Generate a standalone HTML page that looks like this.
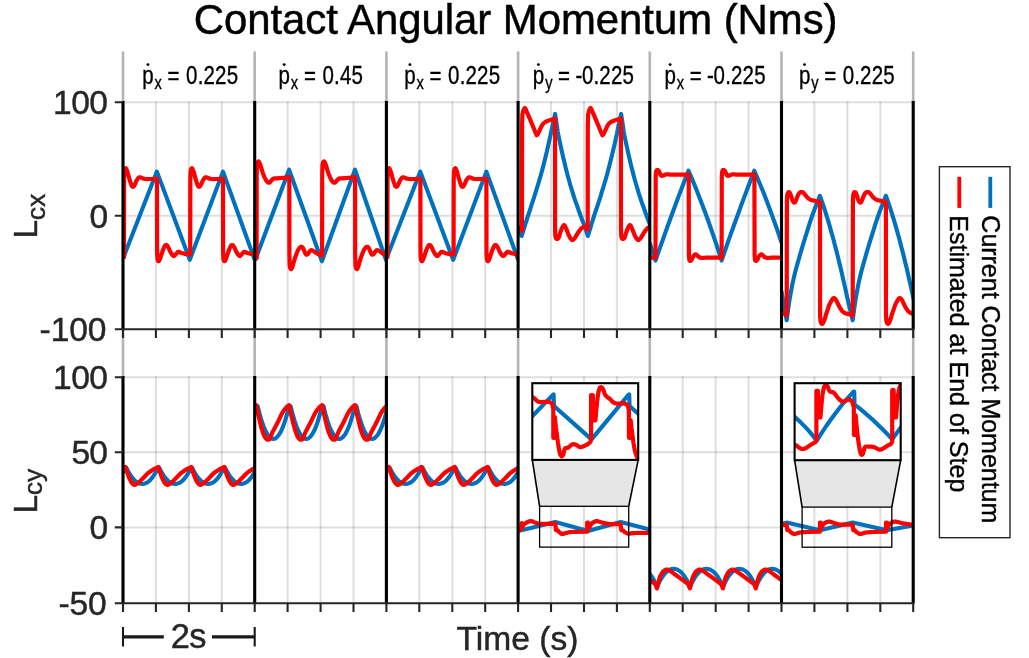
<!DOCTYPE html>
<html><head><meta charset="utf-8"><title>Contact Angular Momentum</title>
<style>html,body{margin:0;padding:0;background:#fff;}body{width:1029px;height:658px;overflow:hidden;font-family:"Liberation Sans",sans-serif;}svg{display:block;will-change:transform;}</style>
</head><body>
<svg width="1029" height="658" viewBox="0 0 1029 658" font-family="'Liberation Sans', sans-serif">
<rect width="1029" height="658" fill="#fff"/>
<defs>
<clipPath id="ct0"><rect x="123" y="100.2" width="131.7" height="229"/></clipPath>
<clipPath id="cb0"><rect x="123" y="375.2" width="131.7" height="228"/></clipPath>
<clipPath id="ct1"><rect x="254.7" y="100.2" width="131.7" height="229"/></clipPath>
<clipPath id="cb1"><rect x="254.7" y="375.2" width="131.7" height="228"/></clipPath>
<clipPath id="ct2"><rect x="386.4" y="100.2" width="131.7" height="229"/></clipPath>
<clipPath id="cb2"><rect x="386.4" y="375.2" width="131.7" height="228"/></clipPath>
<clipPath id="ct3"><rect x="518.1" y="100.2" width="131.7" height="229"/></clipPath>
<clipPath id="cb3"><rect x="518.1" y="375.2" width="131.7" height="228"/></clipPath>
<clipPath id="ct4"><rect x="649.8" y="100.2" width="131.7" height="229"/></clipPath>
<clipPath id="cb4"><rect x="649.8" y="375.2" width="131.7" height="228"/></clipPath>
<clipPath id="ct5"><rect x="781.5" y="100.2" width="131.7" height="229"/></clipPath>
<clipPath id="cb5"><rect x="781.5" y="375.2" width="131.7" height="228"/></clipPath>
</defs>
<path d="M155.9,101.2V329.2M155.9,376.2V603.2M188.9,101.2V329.2M188.9,376.2V603.2M221.8,101.2V329.2M221.8,376.2V603.2M287.6,101.2V329.2M287.6,376.2V603.2M320.6,101.2V329.2M320.6,376.2V603.2M353.5,101.2V329.2M353.5,376.2V603.2M419.3,101.2V329.2M419.3,376.2V603.2M452.3,101.2V329.2M452.3,376.2V603.2M485.2,101.2V329.2M485.2,376.2V603.2M551,101.2V329.2M551,376.2V603.2M584,101.2V329.2M584,376.2V603.2M616.9,101.2V329.2M616.9,376.2V603.2M682.7,101.2V329.2M682.7,376.2V603.2M715.7,101.2V329.2M715.7,376.2V603.2M748.6,101.2V329.2M748.6,376.2V603.2M814.4,101.2V329.2M814.4,376.2V603.2M847.4,101.2V329.2M847.4,376.2V603.2M880.3,101.2V329.2M880.3,376.2V603.2" stroke="#262626" stroke-opacity="0.15" stroke-width="2" fill="none"/>
<path d="M123,102.2H913.2M123,215.7H913.2M123,377.2H913.2M123,452.3H913.2M123,527.4H913.2" stroke="#262626" stroke-opacity="0.15" stroke-width="2" fill="none"/>
<path d="M123,51.5V102.2M123,329.2V377.2M254.7,51.5V102.2M254.7,329.2V377.2M386.4,51.5V102.2M386.4,329.2V377.2M518.1,51.5V102.2M518.1,329.2V377.2M649.8,51.5V102.2M649.8,329.2V377.2M781.5,51.5V102.2M781.5,329.2V377.2M913.2,51.5V102.2M913.2,329.2V377.2" stroke="#b4b4b4" stroke-width="2.6" fill="none"/>
<path d="M123,258.6 156.9,171.6 189.8,259.8 223,171.6 254.7,259.8" stroke="#0072BD" stroke-width="4.1" fill="none" stroke-linejoin="round" clip-path="url(#ct0)"/>
<path d="M124,258.5 124.1,180 124.4,171.5 124.8,169.4 124.9,169.2 125.1,168.8 125.3,168.4 125.6,168.2 125.8,168.2 126,168.4 126.3,168.8 126.5,169.3 126.8,170 127.2,171 127.6,172.4 128.1,174.1 128.6,176 129.1,177.9 129.6,179.5 130,180.9 130.4,182.2 130.8,183.3 131.2,184.4 131.5,185.2 131.8,185.8 132.1,186.3 132.4,186.6 132.7,186.8 133,186.8 133.3,186.7 133.6,186.4 133.9,186.1 134.3,185.6 134.6,185 135,184.3 135.4,183.3 135.8,182.4 136.2,181.4 136.6,180.6 137,179.9 137.4,179.3 137.8,178.7 138.1,178.3 138.5,177.9 138.8,177.6 139.1,177.4 139.4,177.3 139.7,177.3 140.1,177.3 140.5,177.4 141,177.6 141.5,177.8 142,178.1 142.5,178.3 143,178.5 143.6,178.6 144.2,178.8 144.8,178.9 145.5,179 146.4,179 147.4,179.1 148.5,179 149.4,179 150,179 157,178.9 157.1,252 157.4,258.6 157.8,260.4 157.9,260.6 158,260.8 158.2,261.1 158.4,261.2 158.6,261.2 158.8,261 159.1,260.7 159.3,260.3 159.6,259.6 160,258.8 160.4,257.6 160.9,256.2 161.4,254.6 161.9,253 162.4,251.6 162.9,250.4 163.3,249.2 163.8,248 164.2,247.1 164.6,246.3 165,245.7 165.3,245.3 165.7,245.1 166,245 166.4,245 166.7,245.2 167.1,245.5 167.4,245.9 167.8,246.5 168.2,247.2 168.7,248.1 169.2,249.2 169.7,250.4 170.3,251.6 170.8,252.6 171.4,253.5 171.9,254.4 172.5,255.1 173.1,255.7 173.6,256 174.1,255.9 174.6,255.6 175.1,255.1 175.5,254.5 176,254 176.5,253.5 176.9,253 177.4,252.5 177.8,252 178.3,251.8 178.8,251.8 179.3,252 179.8,252.2 180.4,252.5 181,252.8 181.7,253 182.4,253.2 183.1,253.4 183.8,253.6 184.5,253.8 185.2,254 186,254.1 186.7,254.2 187.4,254.3 187.8,254.4 190.2,254.5 190.3,180 190.6,171.5 191,169.4 191.1,169.2 191.3,168.8 191.5,168.4 191.8,168.2 192,168.2 192.2,168.4 192.5,168.8 192.7,169.3 193,170 193.4,171 193.8,172.4 194.3,174.1 194.8,176 195.3,177.9 195.8,179.5 196.2,180.9 196.6,182.2 197,183.3 197.4,184.4 197.7,185.2 198,185.8 198.3,186.3 198.6,186.6 198.9,186.8 199.2,186.8 199.5,186.7 199.8,186.4 200.1,186.1 200.5,185.6 200.8,185 201.2,184.3 201.6,183.3 202,182.4 202.4,181.4 202.8,180.6 203.2,179.9 203.6,179.3 204,178.7 204.3,178.3 204.7,177.9 205,177.6 205.3,177.4 205.6,177.3 205.9,177.3 206.3,177.3 206.7,177.4 207.2,177.6 207.7,177.8 208.2,178.1 208.7,178.3 209.2,178.5 209.8,178.6 210.4,178.8 211,178.9 211.7,179 212.6,179 213.6,179.1 214.7,179 215.6,179 216.2,179 223,178.9 223.1,252 223.4,258.6 223.8,260.4 223.9,260.6 224,260.8 224.2,261.1 224.4,261.2 224.6,261.2 224.8,261 225.1,260.7 225.3,260.3 225.6,259.6 226,258.8 226.4,257.6 226.9,256.2 227.4,254.6 227.9,253 228.4,251.6 228.9,250.4 229.3,249.2 229.8,248 230.2,247.1 230.6,246.3 231,245.7 231.3,245.3 231.7,245.1 232,245 232.4,245 232.7,245.2 233.1,245.5 233.4,245.9 233.8,246.5 234.2,247.2 234.7,248.1 235.2,249.2 235.7,250.4 236.3,251.6 236.8,252.6 237.4,253.5 237.9,254.4 238.5,255.1 239.1,255.7 239.6,256 240.1,255.9 240.6,255.6 241.1,255.1 241.5,254.5 242,254 242.5,253.5 242.9,253 243.4,252.5 243.8,252 244.3,251.8 244.8,251.8 245.3,252 245.8,252.2 246.4,252.5 247,252.8 247.7,253 248.4,253.2 249.1,253.4 249.8,253.6 250.5,253.8 251.2,254 252,254.1 252.7,254.2 253.4,254.3 253.8,254.4 254.7,254.5" stroke="#FF0000" stroke-width="4.2" fill="none" stroke-linejoin="round" clip-path="url(#ct0)"/>
<path d="M255,260.6 289.1,169.7 321.9,261.2 355,169.7 386.4,261.2" stroke="#0072BD" stroke-width="4.1" fill="none" stroke-linejoin="round" clip-path="url(#ct1)"/>
<path d="M256.6,259.5 256.7,175 257,165 257.5,162.6 257.6,162.4 257.8,162 258,161.7 258.3,161.4 258.5,161.4 258.7,161.6 259,161.8 259.3,162.3 259.6,163 260,164 260.5,165.5 261.1,167.3 261.7,169.4 262.3,171.4 262.9,173.2 263.5,174.8 264.1,176.2 264.7,177.6 265.3,178.8 265.8,179.8 266.3,180.6 266.7,181.2 267.1,181.6 267.5,182 267.8,182.3 268.1,182.5 268.3,182.7 268.5,182.7 268.8,182.7 269,182.7 269.3,182.6 269.5,182.5 269.8,182.3 270.1,182.1 270.4,181.8 270.7,181.5 271,181 271.3,180.6 271.7,180.2 272,179.8 272.3,179.5 272.7,179.2 273,178.9 273.4,178.7 273.8,178.5 274.3,178.4 274.7,178.3 275.3,178.3 275.9,178.3 276.6,178.3 277.5,178.3 278.4,178.2 279.5,178.1 280.6,178.1 281.6,178 282.7,177.9 283.8,177.8 285,177.6 285.9,177.5 286.6,177.4 289.3,177.2 289.4,255 289.7,265.5 290.2,268 290.3,268.2 290.5,268.6 290.7,268.9 290.9,269.2 291.1,269.2 291.3,269 291.6,268.6 291.9,268 292.2,267.3 292.5,266.5 292.8,265.6 293.1,264.5 293.4,263.2 293.8,261.9 294.2,260.5 294.7,258.9 295.3,257.1 296,255.2 296.6,253.5 297.2,252 297.7,250.9 298.2,249.9 298.6,249.2 299.1,248.5 299.5,248 299.9,247.5 300.3,247.2 300.7,246.9 301.1,246.8 301.5,246.8 301.9,246.9 302.2,247.2 302.6,247.6 303,248.1 303.3,248.6 303.6,249.3 304,250.1 304.3,251 304.6,251.8 304.9,252.5 305.2,253.1 305.5,253.7 305.8,254.1 306.1,254.5 306.4,254.7 306.7,254.7 307.1,254.6 307.4,254.3 307.8,254 308.1,253.6 308.5,253.1 308.8,252.6 309.2,252 309.6,251.4 309.9,251 310.2,250.7 310.5,250.5 310.8,250.3 311.1,250.2 311.5,250.2 311.9,250.3 312.3,250.4 312.8,250.7 313.3,251 313.8,251.3 314.4,251.7 315.1,252.2 315.9,252.7 316.6,253.2 317.3,253.6 318,254 318.7,254.3 319.3,254.6 319.9,254.9 320.3,255.1 322.1,255.3 322.2,175 322.5,165 323,162.6 323.1,162.4 323.3,162 323.5,161.7 323.8,161.4 324,161.4 324.2,161.6 324.5,161.8 324.8,162.3 325.1,163 325.5,164 326,165.5 326.6,167.3 327.2,169.4 327.8,171.4 328.4,173.2 329,174.8 329.6,176.2 330.2,177.6 330.8,178.8 331.3,179.8 331.8,180.6 332.2,181.2 332.6,181.6 333,182 333.3,182.3 333.6,182.5 333.8,182.7 334,182.7 334.3,182.7 334.5,182.7 334.8,182.6 335,182.5 335.3,182.3 335.6,182.1 335.9,181.8 336.2,181.5 336.5,181 336.8,180.6 337.2,180.2 337.5,179.8 337.8,179.5 338.2,179.2 338.5,178.9 338.9,178.7 339.3,178.5 339.8,178.4 340.2,178.3 340.8,178.3 341.4,178.3 342.1,178.3 343,178.3 343.9,178.2 345,178.1 346.1,178.1 347.1,178 348.2,177.9 349.3,177.8 350.5,177.6 351.4,177.5 352.1,177.4 355.1,177.2 355.2,255 355.5,265.5 356,268 356.1,268.2 356.3,268.6 356.5,268.9 356.7,269.2 356.9,269.2 357.1,269 357.4,268.6 357.7,268 358,267.3 358.3,266.5 358.6,265.6 358.9,264.5 359.2,263.2 359.6,261.9 360,260.5 360.5,258.9 361.1,257.1 361.8,255.2 362.4,253.5 363,252 363.5,250.9 364,249.9 364.4,249.2 364.9,248.5 365.3,248 365.7,247.5 366.1,247.2 366.5,246.9 366.9,246.8 367.3,246.8 367.7,246.9 368,247.2 368.4,247.6 368.8,248.1 369.1,248.6 369.4,249.3 369.8,250.1 370.1,251 370.4,251.8 370.7,252.5 371,253.1 371.3,253.7 371.6,254.1 371.9,254.5 372.2,254.7 372.5,254.7 372.9,254.6 373.2,254.3 373.6,254 373.9,253.6 374.3,253.1 374.6,252.6 375,252 375.4,251.4 375.7,251 376,250.7 376.3,250.5 376.6,250.3 376.9,250.2 377.3,250.2 377.7,250.3 378.1,250.4 378.6,250.7 379.1,251 379.6,251.3 380.2,251.7 380.9,252.2 381.7,252.7 382.4,253.2 383.1,253.6 383.8,254 384.5,254.3 385.1,254.6 385.7,254.9 386.1,255.1 386.4,255.3" stroke="#FF0000" stroke-width="4.2" fill="none" stroke-linejoin="round" clip-path="url(#ct1)"/>
<path d="M386.4,258.6 420.3,171.6 453.2,259.8 486.4,171.6 518.1,259.8" stroke="#0072BD" stroke-width="4.1" fill="none" stroke-linejoin="round" clip-path="url(#ct2)"/>
<path d="M387.4,258.5 387.5,180 387.8,171.5 388.2,169.4 388.3,169.2 388.5,168.8 388.7,168.4 389,168.2 389.2,168.2 389.4,168.4 389.7,168.8 389.9,169.3 390.2,170 390.6,171 391,172.4 391.5,174.1 392,176 392.5,177.9 393,179.5 393.4,180.9 393.8,182.2 394.2,183.3 394.6,184.4 394.9,185.2 395.2,185.8 395.5,186.3 395.8,186.6 396.1,186.8 396.4,186.8 396.7,186.7 397,186.4 397.3,186.1 397.7,185.6 398,185 398.4,184.3 398.8,183.3 399.2,182.4 399.6,181.4 400,180.6 400.4,179.9 400.8,179.3 401.2,178.7 401.5,178.3 401.9,177.9 402.2,177.6 402.5,177.4 402.8,177.3 403.1,177.3 403.5,177.3 403.9,177.4 404.4,177.6 404.9,177.8 405.4,178.1 405.9,178.3 406.4,178.5 407,178.6 407.6,178.8 408.2,178.9 408.9,179 409.8,179 410.8,179.1 411.9,179 412.8,179 413.4,179 420.4,178.9 420.5,252 420.8,258.6 421.2,260.4 421.3,260.6 421.4,260.8 421.6,261.1 421.8,261.2 422,261.2 422.2,261 422.5,260.7 422.7,260.3 423,259.6 423.4,258.8 423.8,257.6 424.3,256.2 424.8,254.6 425.3,253 425.8,251.6 426.3,250.4 426.7,249.2 427.2,248 427.6,247.1 428,246.3 428.4,245.7 428.7,245.3 429.1,245.1 429.4,245 429.8,245 430.1,245.2 430.5,245.5 430.8,245.9 431.2,246.5 431.6,247.2 432.1,248.1 432.6,249.2 433.1,250.4 433.7,251.6 434.2,252.6 434.8,253.5 435.3,254.4 435.9,255.1 436.5,255.7 437,256 437.5,255.9 438,255.6 438.5,255.1 438.9,254.5 439.4,254 439.9,253.5 440.3,253 440.8,252.5 441.2,252 441.7,251.8 442.2,251.8 442.7,252 443.2,252.2 443.8,252.5 444.4,252.8 445.1,253 445.8,253.2 446.5,253.4 447.2,253.6 447.9,253.8 448.6,254 449.4,254.1 450.1,254.2 450.8,254.3 451.2,254.4 453.6,254.5 453.7,180 454,171.5 454.4,169.4 454.5,169.2 454.7,168.8 454.9,168.4 455.2,168.2 455.4,168.2 455.6,168.4 455.9,168.8 456.1,169.3 456.4,170 456.8,171 457.2,172.4 457.7,174.1 458.2,176 458.7,177.9 459.2,179.5 459.6,180.9 460,182.2 460.4,183.3 460.8,184.4 461.1,185.2 461.4,185.8 461.7,186.3 462,186.6 462.3,186.8 462.6,186.8 462.9,186.7 463.2,186.4 463.5,186.1 463.9,185.6 464.2,185 464.6,184.3 465,183.3 465.4,182.4 465.8,181.4 466.2,180.6 466.6,179.9 467,179.3 467.4,178.7 467.7,178.3 468.1,177.9 468.4,177.6 468.7,177.4 469,177.3 469.3,177.3 469.7,177.3 470.1,177.4 470.6,177.6 471.1,177.8 471.6,178.1 472.1,178.3 472.6,178.5 473.2,178.6 473.8,178.8 474.4,178.9 475.1,179 476,179 477,179.1 478.1,179 479,179 479.6,179 486.4,178.9 486.5,252 486.8,258.6 487.2,260.4 487.3,260.6 487.4,260.8 487.6,261.1 487.8,261.2 488,261.2 488.2,261 488.5,260.7 488.7,260.3 489,259.6 489.4,258.8 489.8,257.6 490.3,256.2 490.8,254.6 491.3,253 491.8,251.6 492.3,250.4 492.7,249.2 493.2,248 493.6,247.1 494,246.3 494.4,245.7 494.7,245.3 495.1,245.1 495.4,245 495.8,245 496.1,245.2 496.5,245.5 496.8,245.9 497.2,246.5 497.6,247.2 498.1,248.1 498.6,249.2 499.1,250.4 499.7,251.6 500.2,252.6 500.8,253.5 501.3,254.4 501.9,255.1 502.5,255.7 503,256 503.5,255.9 504,255.6 504.5,255.1 504.9,254.5 505.4,254 505.9,253.5 506.3,253 506.8,252.5 507.2,252 507.7,251.8 508.2,251.8 508.7,252 509.2,252.2 509.8,252.5 510.4,252.8 511.1,253 511.8,253.2 512.5,253.4 513.2,253.6 513.9,253.8 514.6,254 515.4,254.1 516.1,254.2 516.8,254.3 517.2,254.4 518.1,254.5" stroke="#FF0000" stroke-width="4.2" fill="none" stroke-linejoin="round" clip-path="url(#ct2)"/>
<path d="M518.1,226 521.7,236 523.1,231.4 524.5,226.8 525.9,222.3 527.3,218 528.7,213.7 530.1,209.5 531.4,205.3 532.8,201.1 534.2,196.8 535.6,192.4 537,187.9 538.4,183.4 539.8,178.7 541.2,173.8 542.6,168.6 544,163.2 545.4,157.5 546.8,151.8 548.1,145.9 549.5,139.8 550.9,133.4 552.3,126.7 553.7,120.3 555.1,113.9 555.1,113.9 556.5,122.9 557.8,132.1 559.2,139.3 560.6,145.6 561.9,151.7 563.3,157.7 564.7,163.5 566,169.1 567.4,174.4 568.8,179.5 570.1,184.3 571.5,188.9 572.9,193.3 574.2,197.6 575.6,201.6 577,205.5 578.3,209.3 579.7,213.2 581.1,216.9 582.4,220.5 583.8,224.1 585.2,227.8 586.5,231.8 587.9,236 587.9,236 589.3,231.4 590.7,226.8 592,222.3 593.4,218 594.8,213.7 596.2,209.5 597.6,205.3 599,201.1 600.4,196.8 601.7,192.4 603.1,187.9 604.5,183.4 605.9,178.7 607.3,173.8 608.6,168.6 610,163.2 611.4,157.5 612.8,151.8 614.2,145.9 615.6,139.8 617,133.4 618.3,126.7 619.7,120.3 621.1,113.9 621.1,113.9 622.5,122.9 623.8,132.1 625.2,139.3 626.6,145.6 627.9,151.7 629.3,157.7 630.6,163.5 632,169.1 633.4,174.4 634.7,179.5 636.1,184.3 637.5,188.9 638.8,193.3 640.2,197.6 641.5,201.6 642.9,205.5 644.3,209.3 645.6,213.2 647,216.9 648.4,220.5 649.7,224.1 651.1,227.8 652.4,231.8 653.8,236" stroke="#0072BD" stroke-width="4.1" fill="none" stroke-linejoin="round" clip-path="url(#ct3)"/>
<path d="M518.6,230.5 522,230.5 522.1,125 522.4,114.5 523.2,111 523.4,110.5 523.7,109.7 524.1,108.9 524.5,108.3 524.8,108 525.1,108.2 525.5,108.8 525.9,109.6 526.2,110.3 526.4,110.8 530.5,120.3 535.8,133.2 536.8,135.2 536.9,135.1 537.1,134.9 537.3,134.7 537.6,134.4 537.9,134 538.2,133.4 538.6,132.7 538.9,131.8 539.4,130.9 539.8,130 540.3,129 540.8,127.8 541.3,126.7 541.9,125.5 542.5,124.6 543.1,123.8 543.8,123.2 544.5,122.6 545.2,122.1 546,121.6 546.9,121.2 547.9,120.8 549,120.4 550,120.1 551,119.8 551.9,119.5 552.9,119.2 553.7,119 554.5,118.8 555,118.6 555,118.5 555.1,230 555.3,235.5 555.8,238 556,238.2 556.2,238.5 556.6,238.7 556.9,239 557.2,239 557.5,238.9 557.8,238.8 558.1,238.5 558.4,238.1 558.8,237.4 559.2,236.3 559.6,234.9 560,233.4 560.5,231.9 561,230.5 561.5,229.2 562.1,227.9 562.7,226.6 563.3,225.7 563.8,225.2 564.3,225.2 564.7,225.6 565.1,226.3 565.5,227.2 566,228.3 566.6,229.7 567.3,231.4 568,233.2 568.6,234.9 569.3,236.3 569.9,237.4 570.5,238.4 571.1,239.1 571.6,239.7 572.2,240 572.7,240 573.2,239.8 573.7,239.3 574.2,238.7 574.8,238 575.4,237.2 576,236.1 576.7,235 577.3,233.9 578,232.8 578.7,231.8 579.4,230.8 580.1,229.8 580.9,228.9 581.6,228.2 582.3,227.6 583.1,227.2 583.9,226.9 584.6,226.7 585.2,226.6 585.7,226.6 586.1,226.9 586.5,227.1 586.8,227.4 587,227.6 587.7,229.6 587.8,125 588.1,114.5 588.9,111 589.1,110.5 589.4,109.7 589.8,108.9 590.2,108.3 590.5,108 590.8,108.2 591.2,108.8 591.6,109.6 591.9,110.3 592.1,110.8 596.2,120.3 601.5,133.2 602.5,135.2 602.6,135.1 602.8,134.9 603,134.7 603.3,134.4 603.6,134 603.9,133.4 604.3,132.7 604.6,131.8 605.1,130.9 605.5,130 606,129 606.5,127.8 607,126.7 607.6,125.5 608.2,124.6 608.8,123.8 609.5,123.2 610.2,122.6 610.9,122.1 611.7,121.6 612.6,121.2 613.6,120.8 614.7,120.4 615.7,120.1 616.7,119.8 617.6,119.5 618.6,119.2 619.4,119 620.2,118.8 620.7,118.6 620.9,118.5 621,230 621.2,235.5 621.7,238 621.9,238.2 622.1,238.5 622.5,238.7 622.8,239 623.1,239 623.4,238.9 623.7,238.8 624,238.5 624.3,238.1 624.7,237.4 625.1,236.3 625.5,234.9 625.9,233.4 626.4,231.9 626.9,230.5 627.4,229.2 628,227.9 628.6,226.6 629.2,225.7 629.7,225.2 630.2,225.2 630.6,225.6 631,226.3 631.4,227.2 631.9,228.3 632.5,229.7 633.2,231.4 633.9,233.2 634.5,234.9 635.2,236.3 635.8,237.4 636.4,238.4 637,239.1 637.5,239.7 638.1,240 638.6,240 639.1,239.8 639.6,239.3 640.1,238.7 640.7,238 641.3,237.2 641.9,236.1 642.6,235 643.2,233.9 643.9,232.8 644.6,231.8 645.3,230.8 646,229.8 646.8,228.9 647.5,228.2 648.2,227.6 649,227.2 649.8,226.9 650.5,226.7 651.1,226.6 651.6,226.6 652,226.9 652.4,227.1 652.7,227.4 652.9,227.6 649.8,229.6" stroke="#FF0000" stroke-width="4.2" fill="none" stroke-linejoin="round" clip-path="url(#ct3)"/>
<path d="M649.8,243 655.5,260.6 658.8,251.1 662.1,241.7 665.4,232.4 668.7,223.2 672,214.2 675.3,205.2 678.6,196.4 681.9,187.7 685.2,179.2 688.5,170.7 688.5,170.7 691.8,178.4 695.1,186.4 698.4,194.7 701.7,203.3 705.1,212.2 708.4,221.3 711.7,230.7 715,240.4 718.3,250.4 721.6,260.6 721.6,260.6 724.9,251.1 728.1,241.7 731.4,232.4 734.7,223.2 738,214.2 741.2,205.2 744.5,196.4 747.8,187.7 751,179.2 754.3,170.7 754.3,170.7 757,177 759.7,183.5 762.5,190.1 765.2,197 767.9,204.1 770.6,211.4 773.3,218.9 776.1,226.5 778.8,234.4 781.5,242.5" stroke="#0072BD" stroke-width="4.1" fill="none" stroke-linejoin="round" clip-path="url(#ct4)"/>
<path d="M650.3,257.7 655.5,257.7 655.7,176 655.8,175.4 655.8,174.6 655.9,173.6 656,172.6 656.1,171.7 656.3,171 656.5,170.6 656.7,170.3 657,170.1 657.2,170 657.5,170 657.7,170 657.9,170.1 658.2,170.2 658.4,170.5 658.6,170.8 658.9,171.1 659.1,171.5 659.3,172 659.6,172.6 659.8,173.2 660,173.8 660.3,174.4 660.5,174.8 660.7,175.1 661,175.4 661.2,175.5 661.5,175.7 661.7,175.8 662,175.8 662.3,175.8 662.6,175.7 662.9,175.6 663.3,175.5 663.6,175.3 664,175.2 664.4,175.1 664.7,174.9 665.1,174.7 665.5,174.5 666,174.4 666.5,174.3 667.1,174.3 667.9,174.4 668.7,174.4 669.4,174.5 670,174.6 670.5,174.7 688.7,174.7 688.9,255 688.9,255.6 689,256.5 689.1,257.4 689.2,258.5 689.3,259.4 689.4,260 689.5,260.4 689.7,260.7 689.9,260.8 690.1,260.8 690.3,260.8 690.5,260.8 690.7,260.7 690.9,260.6 691.1,260.4 691.3,260.2 691.5,259.9 691.7,259.5 692,259 692.2,258.4 692.6,257.8 692.9,257.1 693.2,256.5 693.5,256 693.8,255.6 694.2,255.2 694.5,254.9 694.8,254.6 695.2,254.4 695.5,254.3 695.8,254.3 696.1,254.5 696.4,254.7 696.7,255 697,255.2 697.3,255.5 697.6,255.8 697.9,256.1 698.2,256.4 698.5,256.7 698.8,257 699.2,257.2 699.6,257.4 699.9,257.5 700.3,257.7 700.7,257.8 701.2,257.8 701.7,257.9 702.3,257.9 703.1,257.9 703.9,257.8 704.6,257.8 705.2,257.7 705.7,257.7 721.6,257.7 721.8,176 721.9,175.4 721.9,174.6 722,173.6 722.1,172.6 722.2,171.7 722.4,171 722.6,170.6 722.8,170.3 723,170.1 723.3,170 723.6,170 723.8,170 724,170.1 724.3,170.2 724.5,170.5 724.7,170.8 725,171.1 725.2,171.5 725.4,172 725.7,172.6 725.9,173.2 726.1,173.8 726.4,174.4 726.6,174.8 726.8,175.1 727.1,175.4 727.3,175.5 727.6,175.7 727.8,175.8 728.1,175.8 728.4,175.8 728.7,175.7 729,175.6 729.4,175.5 729.7,175.3 730.1,175.2 730.5,175.1 730.8,174.9 731.2,174.7 731.6,174.5 732.1,174.4 732.6,174.3 733.2,174.3 734,174.4 734.8,174.4 735.5,174.5 736.1,174.6 736.6,174.7 754.4,174.7 754.6,255 754.6,255.6 754.7,256.5 754.8,257.4 754.9,258.5 755,259.4 755.1,260 755.2,260.4 755.4,260.7 755.6,260.8 755.8,260.8 756,260.8 756.2,260.8 756.4,260.7 756.6,260.6 756.8,260.4 757,260.2 757.2,259.9 757.4,259.5 757.7,259 757.9,258.4 758.3,257.8 758.6,257.1 758.9,256.5 759.2,256 759.5,255.6 759.9,255.2 760.2,254.9 760.5,254.6 760.9,254.4 761.2,254.3 761.5,254.3 761.8,254.5 762.1,254.7 762.4,255 762.7,255.2 763,255.5 763.3,255.8 763.6,256.1 763.9,256.4 764.2,256.7 764.5,257 764.9,257.2 765.3,257.4 765.6,257.5 766,257.7 766.4,257.8 766.9,257.8 767.4,257.9 768,257.9 768.8,257.9 769.6,257.8 770.3,257.8 770.9,257.7 771.4,257.7 781.5,257.7" stroke="#FF0000" stroke-width="4.2" fill="none" stroke-linejoin="round" clip-path="url(#ct4)"/>
<path d="M781.5,291 786.7,320.3 786.7,320.3 788.1,309.7 789.5,300.2 790.9,292.2 792.2,285.1 793.6,278.7 795,272.8 796.4,267.5 797.8,262.6 799.2,257.7 800.5,253 801.9,248.3 803.3,243.7 804.7,239.1 806.1,234.7 807.5,230.3 808.8,225.9 810.2,221.7 811.6,217.5 813,213.5 814.4,209.8 815.8,206.3 817.1,202.8 818.5,199.3 819.9,195.8 819.9,195.8 821.3,199.6 822.6,203.5 824,207.5 825.4,211.8 826.7,216.2 828.1,220.7 829.5,225.3 830.8,230.1 832.2,235 833.6,240 834.9,245.2 836.3,250.5 837.7,255.9 839,261.5 840.4,267.1 841.8,273 843.1,279 844.5,285.1 845.9,291.2 847.2,297.2 848.6,303.2 850,309.1 851.3,314.8 852.7,320.3 852.7,320.3 854.1,309.7 855.5,300.2 856.9,292.2 858.2,285.1 859.6,278.7 861,272.8 862.4,267.5 863.8,262.6 865.2,257.7 866.5,253 867.9,248.3 869.3,243.7 870.7,239.1 872.1,234.7 873.5,230.3 874.8,225.9 876.2,221.7 877.6,217.5 879,213.5 880.4,209.8 881.8,206.3 883.1,202.8 884.5,199.3 885.9,195.8 885.9,195.8 887.3,199.6 888.6,203.5 890,207.5 891.4,211.8 892.7,216.2 894.1,220.7 895.5,225.3 896.8,230.1 898.2,235 899.6,240 900.9,245.2 902.3,250.5 903.7,255.9 905,261.5 906.4,267.1 907.8,273 909.1,279 910.5,285.1 911.9,291.2 913.2,297.2 914.6,303.2 916,309.1 917.3,314.8 918.7,320.3" stroke="#0072BD" stroke-width="4.1" fill="none" stroke-linejoin="round" clip-path="url(#ct5)"/>
<path d="M782,313 784.5,314 786.7,315.5 786.9,200 787,199.3 787,198.3 787.1,197.1 787.2,195.9 787.3,194.8 787.5,194 787.7,193.4 787.9,192.9 788.2,192.6 788.4,192.3 788.7,192.1 788.9,192.1 789.1,192.2 789.4,192.3 789.6,192.6 789.8,193 790,193.4 790.3,194 790.6,194.7 790.9,195.7 791.2,196.7 791.5,197.7 791.8,198.7 792.1,199.5 792.4,200.2 792.8,200.9 793.1,201.5 793.5,202 793.8,202.4 794.1,202.6 794.4,202.6 794.6,202.5 794.9,202.3 795.2,202 795.4,201.5 795.7,201 796,200.3 796.3,199.5 796.7,198.5 797,197.5 797.4,196.6 797.7,195.8 798,195.1 798.4,194.5 798.7,194 799,193.5 799.4,193.1 799.7,192.7 800,192.4 800.3,192.2 800.6,192.1 800.9,192 801.2,192 801.5,192 801.8,192 802.2,192.1 802.5,192.2 802.9,192.4 803.3,192.7 803.7,193 804.1,193.5 804.6,194.1 805.1,194.7 805.6,195.4 806.2,196.1 806.7,196.7 807.2,197.2 807.8,197.8 808.4,198.3 808.9,198.8 809.6,199.2 810.2,199.6 810.9,199.9 811.6,200.1 812.4,200.3 813.2,200.5 813.9,200.6 814.7,200.8 815.5,201 816.4,201.2 817.2,201.4 818,201.6 818.7,201.8 819.2,201.9 820,202 820.1,316 820.5,321 821.2,323.2 821.3,323.3 821.5,323.5 821.7,323.7 821.9,323.8 822.2,323.9 822.4,323.8 822.6,323.6 822.9,323.3 823.1,322.9 823.4,322.4 823.7,321.8 824,321 824.4,320 824.7,318.7 825.2,317.4 825.6,315.9 826,314.4 826.5,313 827,311.6 827.5,310.1 828,308.6 828.5,307.1 829,305.7 829.5,304.5 830,303.4 830.6,302.3 831.1,301.3 831.7,300.4 832.2,299.6 832.6,299 833,298.6 833.2,298.3 833.5,298.2 833.7,298.2 834,298.2 834.2,298.3 834.4,298.3 834.7,298.4 834.9,298.5 835.1,298.7 835.4,299.1 835.8,299.6 836.2,300.4 836.8,301.4 837.3,302.6 837.9,303.8 838.5,305 839,306 839.5,306.9 840,307.8 840.5,308.7 841,309.4 841.5,310.2 842,310.8 842.5,311.4 843,311.8 843.6,312.2 844.1,312.6 844.6,312.9 845.2,313.2 845.8,313.4 846.5,313.6 847.1,313.8 847.8,313.9 848.4,314 849,314.2 849.6,314.4 850.2,314.6 850.7,314.8 851.3,314.9 851.7,315.1 852,315.2 852.7,315.5 852.9,200 853,199.3 853,198.3 853.1,197.1 853.2,195.9 853.3,194.8 853.5,194 853.7,193.4 853.9,192.9 854.2,192.6 854.4,192.3 854.7,192.1 854.9,192.1 855.1,192.2 855.4,192.3 855.6,192.6 855.8,193 856,193.4 856.3,194 856.6,194.7 856.9,195.7 857.2,196.7 857.5,197.7 857.8,198.7 858.1,199.5 858.4,200.2 858.8,200.9 859.1,201.5 859.5,202 859.8,202.4 860.1,202.6 860.4,202.6 860.6,202.5 860.9,202.3 861.2,202 861.4,201.5 861.7,201 862,200.3 862.3,199.5 862.7,198.5 863,197.5 863.4,196.6 863.7,195.8 864,195.1 864.4,194.5 864.7,194 865,193.5 865.4,193.1 865.7,192.7 866,192.4 866.3,192.2 866.6,192.1 866.9,192 867.2,192 867.5,192 867.8,192 868.2,192.1 868.5,192.2 868.9,192.4 869.3,192.7 869.7,193 870.1,193.5 870.6,194.1 871.1,194.7 871.6,195.4 872.2,196.1 872.7,196.7 873.2,197.2 873.8,197.8 874.4,198.3 874.9,198.8 875.6,199.2 876.2,199.6 876.9,199.9 877.6,200.1 878.4,200.3 879.2,200.5 879.9,200.6 880.7,200.8 881.5,201 882.4,201.2 883.2,201.4 884,201.6 884.7,201.8 885.2,201.9 885.9,202 886,316 886.4,321 887.1,323.2 887.2,323.3 887.4,323.5 887.6,323.7 887.8,323.8 888.1,323.9 888.3,323.8 888.5,323.6 888.8,323.3 889,322.9 889.3,322.4 889.6,321.8 889.9,321 890.3,320 890.6,318.7 891.1,317.4 891.5,315.9 891.9,314.4 892.4,313 892.9,311.6 893.4,310.1 893.9,308.6 894.4,307.1 894.9,305.7 895.4,304.5 895.9,303.4 896.5,302.3 897,301.3 897.6,300.4 898.1,299.6 898.5,299 898.9,298.6 899.1,298.3 899.4,298.2 899.6,298.2 899.9,298.2 900.1,298.3 900.3,298.3 900.6,298.4 900.8,298.5 901,298.7 901.3,299.1 901.7,299.6 902.1,300.4 902.7,301.4 903.2,302.6 903.8,303.8 904.4,305 904.9,306 905.4,306.9 905.9,307.8 906.4,308.7 906.9,309.4 907.4,310.2 907.9,310.8 908.4,311.4 908.9,311.8 909.5,312.2 910,312.6 910.5,312.9 911.1,313.2 911.7,313.4 912.4,313.6 913,313.8 913.7,313.9 914.3,314 914.9,314.2 915.5,314.4 916.1,314.6 916.6,314.8 917.2,314.9 917.6,315.1 917.9,315.2 913.2,315.5" stroke="#FF0000" stroke-width="4.2" fill="none" stroke-linejoin="round" clip-path="url(#ct5)"/>
<path d="M92.5,467.4 93.5,467.9 95.5,471.8 97.5,475.1 99.5,477.9 101.5,480.1 103.5,481.9 105.4,483.1 107.4,483.8 109.4,484 111.4,483.7 113.4,482.9 115.4,481.7 117.4,479.9 119.4,477.6 121.4,474.7 123.4,471.4 125.4,467.4 125.4,467.4 126.4,467.9 128.4,471.8 130.4,475.1 132.4,477.9 134.4,480.1 136.4,481.9 138.4,483.1 140.4,483.8 142.4,484 144.4,483.7 146.4,482.9 148.3,481.7 150.3,479.9 152.3,477.6 154.3,474.7 156.3,471.4 158.3,467.4 158.3,467.4 159.3,467.9 161.3,471.8 163.3,475.1 165.3,477.9 167.3,480.1 169.3,481.9 171.3,483.1 173.3,483.8 175.3,484 177.3,483.7 179.3,482.9 181.3,481.7 183.3,479.9 185.3,477.6 187.3,474.7 189.3,471.4 191.2,467.4 191.2,467.4 192.2,467.9 194.2,471.8 196.2,475.1 198.2,477.9 200.2,480.1 202.2,481.9 204.2,483.1 206.2,483.8 208.2,484 210.2,483.7 212.2,482.9 214.2,481.7 216.2,479.9 218.2,477.6 220.2,474.7 222.2,471.4 224.2,467.4 224.2,467.4 225.2,467.9 227.2,471.8 229.2,475.1 231.2,477.9 233.2,480.1 235.2,481.9 237.1,483.1 239.1,483.8 241.1,484 243.1,483.7 245.1,482.9 247.1,481.7 249.1,479.9 251.1,477.6 253.1,474.7 255.1,471.4 257.1,467.4" stroke="#0072BD" stroke-width="4.1" fill="none" stroke-linejoin="round" clip-path="url(#cb0)"/>
<path d="M92.5,466.9 92.6,467.4 92.9,468.1 93.1,469 93.5,470 93.9,471.2 94.3,472.6 94.8,474 95.3,475.3 95.7,476.4 96.1,477.4 96.5,478.3 96.9,479.1 97.2,479.9 97.6,480.6 97.9,481.3 98.3,481.9 98.7,482.5 99.1,483.1 99.5,483.6 99.9,484 100.3,484.3 100.6,484.6 101,484.8 101.4,484.9 101.8,484.9 102.1,484.8 102.5,484.6 103,484.4 103.4,484.1 103.8,483.9 104.3,483.6 105,483 106,482.1 107.2,481 108.6,479.8 109.9,478.5 111.1,477.3 112.3,476 113.5,474.7 114.7,473.5 115.9,472.5 117.2,471.6 118.4,470.7 119.6,470 120.6,469.4 121.5,468.9 122.4,468.5 123.1,468.2 123.6,467.9 124,467.6 124.4,467.4 124.7,467.3 124.9,467.1 125.1,467 125.3,467 125.4,466.9 125.4,466.9 125.6,467.4 125.8,468.1 126.1,469 126.4,470 126.8,471.2 127.3,472.6 127.7,474 128.2,475.3 128.6,476.4 129,477.4 129.4,478.3 129.8,479.1 130.2,479.9 130.5,480.6 130.8,481.3 131.2,481.9 131.6,482.5 132,483.1 132.4,483.6 132.8,484 133.2,484.3 133.6,484.6 133.9,484.8 134.3,484.9 134.7,484.9 135.1,484.8 135.5,484.6 135.9,484.4 136.3,484.1 136.7,483.9 137.2,483.6 137.9,483 138.9,482.1 140.2,481 141.5,479.8 142.8,478.5 144,477.3 145.2,476 146.4,474.7 147.6,473.5 148.9,472.5 150.1,471.6 151.4,470.7 152.5,470 153.5,469.4 154.5,468.9 155.3,468.5 156,468.2 156.6,467.9 157,467.6 157.3,467.4 157.6,467.3 157.9,467.1 158.1,467 158.2,467 158.3,466.9 158.3,466.9 158.5,467.4 158.7,468.1 159,469 159.3,470 159.7,471.2 160.2,472.6 160.7,474 161.1,475.3 161.5,476.4 161.9,477.4 162.3,478.3 162.7,479.1 163.1,479.9 163.4,480.6 163.8,481.3 164.1,481.9 164.5,482.5 164.9,483.1 165.3,483.6 165.7,484 166.1,484.3 166.5,484.6 166.8,484.8 167.2,484.9 167.6,484.9 168,484.8 168.4,484.6 168.8,484.4 169.2,484.1 169.6,483.9 170.1,483.6 170.8,483 171.8,482.1 173.1,481 174.4,479.8 175.7,478.5 176.9,477.3 178.1,476 179.3,474.7 180.5,473.5 181.8,472.5 183.1,471.6 184.3,470.7 185.4,470 186.4,469.4 187.4,468.9 188.2,468.5 188.9,468.2 189.5,467.9 189.9,467.6 190.2,467.4 190.5,467.3 190.8,467.1 191,467 191.1,467 191.2,466.9 191.2,466.9 191.4,467.4 191.6,468.1 191.9,469 192.2,470 192.6,471.2 193.1,472.6 193.6,474 194.1,475.3 194.5,476.4 194.9,477.4 195.3,478.3 195.7,479.1 196,479.9 196.4,480.6 196.7,481.3 197.1,481.9 197.4,482.5 197.8,483.1 198.3,483.6 198.7,484 199,484.3 199.4,484.6 199.8,484.8 200.2,484.9 200.5,484.9 200.9,484.8 201.3,484.6 201.8,484.4 202.2,484.1 202.5,483.9 203,483.6 203.8,483 204.8,482.1 206,481 207.4,479.8 208.7,478.5 209.9,477.3 211,476 212.2,474.7 213.4,473.5 214.7,472.5 216,471.6 217.2,470.7 218.4,470 219.4,469.4 220.3,468.9 221.1,468.5 221.9,468.2 222.4,467.9 222.8,467.6 223.2,467.4 223.5,467.3 223.7,467.1 223.9,467 224.1,467 224.2,466.9 224.2,466.9 224.3,467.4 224.6,468.1 224.8,469 225.2,470 225.6,471.2 226,472.6 226.5,474 227,475.3 227.4,476.4 227.8,477.4 228.2,478.3 228.6,479.1 228.9,479.9 229.3,480.6 229.6,481.3 230,481.9 230.4,482.5 230.8,483.1 231.2,483.6 231.6,484 232,484.3 232.3,484.6 232.7,484.8 233.1,484.9 233.5,484.9 233.8,484.8 234.2,484.6 234.7,484.4 235.1,484.1 235.5,483.9 236,483.6 236.7,483 237.7,482.1 239,481 240.3,479.8 241.6,478.5 242.8,477.3 244,476 245.2,474.7 246.4,473.5 247.6,472.5 248.9,471.6 250.1,470.7 251.3,470 252.3,469.4 253.2,468.9 254.1,468.5 254.8,468.2 255.3,467.9 255.7,467.6 256.1,467.4 256.4,467.3 256.6,467.1 256.8,467 257,467 257.1,466.9" stroke="#FF0000" stroke-width="4.2" fill="none" stroke-linejoin="round" clip-path="url(#cb0)"/>
<path d="M223.3,405.8 224.8,406.3 226.7,414.1 228.7,420.8 230.7,426.5 232.6,431 234.6,434.5 236.6,437 238.5,438.4 240.5,438.9 242.5,438.4 244.4,436.8 246.4,434.3 248.3,430.7 250.3,426.1 252.3,420.5 254.2,413.7 256.2,405.8 256.2,405.8 257.7,406.3 259.7,414.1 261.6,420.8 263.6,426.5 265.6,431 267.5,434.5 269.5,437 271.4,438.4 273.4,438.9 275.4,438.4 277.3,436.8 279.3,434.3 281.3,430.7 283.2,426.1 285.2,420.5 287.2,413.7 289.1,405.8 289.1,405.8 290.6,406.3 292.6,414.1 294.6,420.8 296.5,426.5 298.5,431 300.4,434.5 302.4,437 304.4,438.4 306.3,438.9 308.3,438.4 310.3,436.8 312.2,434.3 314.2,430.7 316.2,426.1 318.1,420.5 320.1,413.7 322.1,405.8 322.1,405.8 323.6,406.3 325.5,414.1 327.5,420.8 329.4,426.5 331.4,431 333.4,434.5 335.3,437 337.3,438.4 339.3,438.9 341.2,438.4 343.2,436.8 345.2,434.3 347.1,430.7 349.1,426.1 351,420.5 353,413.7 355,405.8 355,405.8 356.5,406.3 358.4,414.1 360.4,420.8 362.4,426.5 364.3,431 366.3,434.5 368.3,437 370.2,438.4 372.2,438.9 374.2,438.4 376.1,436.8 378.1,434.3 380,430.7 382,426.1 384,420.5 385.9,413.7 387.9,405.8" stroke="#0072BD" stroke-width="4.1" fill="none" stroke-linejoin="round" clip-path="url(#cb1)"/>
<path d="M223.3,405.2 223.5,406.1 223.8,407.5 224.1,409 224.5,410.5 224.7,411.8 225,413.1 225.3,414.6 225.8,416.6 226.5,419.5 227.4,423.2 228.3,426.8 229.2,429.9 229.9,432.1 230.6,434 231.3,435.5 231.9,436.8 232.4,437.7 232.9,438.4 233.3,438.8 233.8,439.2 234.2,439.5 234.5,439.7 234.9,439.7 235.3,439.7 235.6,439.7 236,439.6 236.4,439.3 236.9,438.7 237.4,437.5 238,436 238.7,434.2 239.6,432.2 240.7,430.1 241.9,427.7 243.3,425.3 244.6,422.8 245.9,420.2 247.2,417.4 248.4,414.8 249.6,412.6 250.6,410.9 251.6,409.6 252.5,408.5 253.3,407.6 253.9,406.9 254.4,406.4 254.9,406.1 255.3,405.8 255.6,405.6 255.9,405.4 256.1,405.3 256.2,405.2 256.2,405.2 256.4,406.1 256.7,407.5 257.1,409 257.4,410.5 257.7,411.8 257.9,413.1 258.2,414.6 258.7,416.6 259.4,419.5 260.3,423.2 261.2,426.8 262.1,429.9 262.8,432.1 263.5,434 264.2,435.5 264.8,436.8 265.3,437.7 265.8,438.4 266.3,438.8 266.7,439.2 267.1,439.5 267.5,439.7 267.8,439.7 268.2,439.7 268.6,439.7 268.9,439.6 269.3,439.3 269.8,438.7 270.3,437.5 270.9,436 271.6,434.2 272.5,432.2 273.6,430.1 274.9,427.7 276.2,425.3 277.5,422.8 278.8,420.2 280.1,417.4 281.3,414.8 282.5,412.6 283.6,410.9 284.5,409.6 285.4,408.5 286.2,407.6 286.8,406.9 287.4,406.4 287.8,406.1 288.2,405.8 288.5,405.6 288.8,405.4 289,405.3 289.1,405.2 289.1,405.2 289.3,406.1 289.6,407.5 290,409 290.3,410.5 290.6,411.8 290.8,413.1 291.1,414.6 291.6,416.6 292.3,419.5 293.2,423.2 294.2,426.8 295,429.9 295.8,432.1 296.5,434 297.1,435.5 297.7,436.8 298.3,437.7 298.8,438.4 299.2,438.8 299.6,439.2 300,439.5 300.4,439.7 300.8,439.7 301.1,439.7 301.5,439.7 301.8,439.6 302.2,439.3 302.7,438.7 303.3,437.5 303.9,436 304.6,434.2 305.4,432.2 306.5,430.1 307.8,427.7 309.1,425.3 310.4,422.8 311.7,420.2 313,417.4 314.3,414.8 315.4,412.6 316.5,410.9 317.5,409.6 318.4,408.5 319.1,407.6 319.8,406.9 320.3,406.4 320.7,406.1 321.1,405.8 321.5,405.6 321.7,405.4 321.9,405.3 322.1,405.2 322.1,405.2 322.3,406.1 322.6,407.5 322.9,409 323.2,410.5 323.5,411.8 323.8,413.1 324.1,414.6 324.6,416.6 325.3,419.5 326.2,423.2 327.1,426.8 327.9,429.9 328.7,432.1 329.4,434 330,435.5 330.7,436.8 331.2,437.7 331.7,438.4 332.1,438.8 332.6,439.2 333,439.5 333.3,439.7 333.7,439.7 334.1,439.7 334.4,439.7 334.8,439.6 335.2,439.3 335.7,438.7 336.2,437.5 336.8,436 337.5,434.2 338.4,432.2 339.4,430.1 340.7,427.7 342,425.3 343.4,422.8 344.6,420.2 345.9,417.4 347.2,414.8 348.4,412.6 349.4,410.9 350.4,409.6 351.3,408.5 352.1,407.6 352.7,406.9 353.2,406.4 353.7,406.1 354.1,405.8 354.4,405.6 354.6,405.4 354.8,405.3 355,405.2 355,405.2 355.2,406.1 355.5,407.5 355.8,409 356.2,410.5 356.4,411.8 356.7,413.1 357,414.6 357.5,416.6 358.2,419.5 359.1,423.2 360,426.8 360.9,429.9 361.6,432.1 362.3,434 363,435.5 363.6,436.8 364.1,437.7 364.6,438.4 365,438.8 365.5,439.2 365.9,439.5 366.2,439.7 366.6,439.7 367,439.7 367.3,439.7 367.7,439.6 368.1,439.3 368.6,438.7 369.1,437.5 369.7,436 370.4,434.2 371.3,432.2 372.4,430.1 373.6,427.7 375,425.3 376.3,422.8 377.6,420.2 378.9,417.4 380.1,414.8 381.3,412.6 382.3,410.9 383.3,409.6 384.2,408.5 385,407.6 385.6,406.9 386.1,406.4 386.6,406.1 387,405.8 387.3,405.6 387.6,405.4 387.8,405.3 387.9,405.2" stroke="#FF0000" stroke-width="4.2" fill="none" stroke-linejoin="round" clip-path="url(#cb1)"/>
<path d="M355.9,467.4 356.9,467.9 358.9,471.8 360.9,475.1 362.9,477.9 364.9,480.1 366.9,481.9 368.8,483.1 370.8,483.8 372.8,484 374.8,483.7 376.8,482.9 378.8,481.7 380.8,479.9 382.8,477.6 384.8,474.7 386.8,471.4 388.8,467.4 388.8,467.4 389.8,467.9 391.8,471.8 393.8,475.1 395.8,477.9 397.8,480.1 399.8,481.9 401.8,483.1 403.8,483.8 405.8,484 407.8,483.7 409.8,482.9 411.7,481.7 413.7,479.9 415.7,477.6 417.7,474.7 419.7,471.4 421.7,467.4 421.7,467.4 422.7,467.9 424.7,471.8 426.7,475.1 428.7,477.9 430.7,480.1 432.7,481.9 434.7,483.1 436.7,483.8 438.7,484 440.7,483.7 442.7,482.9 444.7,481.7 446.7,479.9 448.7,477.6 450.7,474.7 452.7,471.4 454.7,467.4 454.7,467.4 455.7,467.9 457.6,471.8 459.6,475.1 461.6,477.9 463.6,480.1 465.6,481.9 467.6,483.1 469.6,483.8 471.6,484 473.6,483.7 475.6,482.9 477.6,481.7 479.6,479.9 481.6,477.6 483.6,474.7 485.6,471.4 487.6,467.4 487.6,467.4 488.6,467.9 490.6,471.8 492.6,475.1 494.6,477.9 496.6,480.1 498.6,481.9 500.5,483.1 502.5,483.8 504.5,484 506.5,483.7 508.5,482.9 510.5,481.7 512.5,479.9 514.5,477.6 516.5,474.7 518.5,471.4 520.5,467.4" stroke="#0072BD" stroke-width="4.1" fill="none" stroke-linejoin="round" clip-path="url(#cb2)"/>
<path d="M355.9,466.9 356,467.4 356.3,468.1 356.5,469 356.9,470 357.3,471.2 357.7,472.6 358.2,474 358.7,475.3 359.1,476.4 359.5,477.4 359.9,478.3 360.3,479.1 360.6,479.9 361,480.6 361.3,481.3 361.7,481.9 362.1,482.5 362.5,483.1 362.9,483.6 363.3,484 363.7,484.3 364,484.6 364.4,484.8 364.8,484.9 365.2,484.9 365.5,484.8 365.9,484.6 366.4,484.4 366.8,484.1 367.2,483.9 367.7,483.6 368.4,483 369.4,482.1 370.7,481 372,479.8 373.3,478.5 374.5,477.3 375.7,476 376.9,474.7 378.1,473.5 379.3,472.5 380.6,471.6 381.8,470.7 383,470 384,469.4 384.9,468.9 385.8,468.5 386.5,468.2 387,467.9 387.4,467.6 387.8,467.4 388.1,467.3 388.3,467.1 388.5,467 388.7,467 388.8,466.9 388.8,466.9 389,467.4 389.2,468.1 389.5,469 389.8,470 390.2,471.2 390.7,472.6 391.1,474 391.6,475.3 392,476.4 392.4,477.4 392.8,478.3 393.2,479.1 393.6,479.9 393.9,480.6 394.2,481.3 394.6,481.9 395,482.5 395.4,483.1 395.8,483.6 396.2,484 396.6,484.3 396.9,484.6 397.3,484.8 397.7,484.9 398.1,484.9 398.5,484.8 398.9,484.6 399.3,484.4 399.7,484.1 400.1,483.9 400.6,483.6 401.3,483 402.3,482.1 403.6,481 404.9,479.8 406.2,478.5 407.4,477.3 408.6,476 409.8,474.7 411,473.5 412.3,472.5 413.5,471.6 414.8,470.7 415.9,470 416.9,469.4 417.9,468.9 418.7,468.5 419.4,468.2 420,467.9 420.4,467.6 420.7,467.4 421,467.3 421.3,467.1 421.5,467 421.6,467 421.7,466.9 421.7,466.9 421.9,467.4 422.1,468.1 422.4,469 422.7,470 423.1,471.2 423.6,472.6 424.1,474 424.5,475.3 424.9,476.4 425.4,477.4 425.7,478.3 426.1,479.1 426.5,479.9 426.8,480.6 427.2,481.3 427.5,481.9 427.9,482.5 428.3,483.1 428.7,483.6 429.1,484 429.5,484.3 429.9,484.6 430.2,484.8 430.6,484.9 431,484.9 431.4,484.8 431.8,484.6 432.2,484.4 432.6,484.1 433,483.9 433.5,483.6 434.2,483 435.2,482.1 436.5,481 437.8,479.8 439.1,478.5 440.3,477.3 441.5,476 442.7,474.7 443.9,473.5 445.2,472.5 446.5,471.6 447.7,470.7 448.8,470 449.8,469.4 450.8,468.9 451.6,468.5 452.3,468.2 452.9,467.9 453.3,467.6 453.6,467.4 453.9,467.3 454.2,467.1 454.4,467 454.5,467 454.7,466.9 454.7,466.9 454.8,467.4 455,468.1 455.3,469 455.7,470 456,471.2 456.5,472.6 457,474 457.5,475.3 457.9,476.4 458.3,477.4 458.7,478.3 459.1,479.1 459.4,479.9 459.8,480.6 460.1,481.3 460.5,481.9 460.8,482.5 461.2,483.1 461.7,483.6 462.1,484 462.4,484.3 462.8,484.6 463.2,484.8 463.6,484.9 463.9,484.9 464.3,484.8 464.7,484.6 465.2,484.4 465.6,484.1 465.9,483.9 466.4,483.6 467.2,483 468.2,482.1 469.4,481 470.8,479.8 472.1,478.5 473.3,477.3 474.5,476 475.6,474.7 476.9,473.5 478.1,472.5 479.4,471.6 480.6,470.7 481.8,470 482.8,469.4 483.7,468.9 484.5,468.5 485.3,468.2 485.8,467.9 486.2,467.6 486.6,467.4 486.9,467.3 487.1,467.1 487.3,467 487.5,467 487.6,466.9 487.6,466.9 487.7,467.4 488,468.1 488.2,469 488.6,470 489,471.2 489.4,472.6 489.9,474 490.4,475.3 490.8,476.4 491.2,477.4 491.6,478.3 492,479.1 492.3,479.9 492.7,480.6 493,481.3 493.4,481.9 493.8,482.5 494.2,483.1 494.6,483.6 495,484 495.4,484.3 495.7,484.6 496.1,484.8 496.5,484.9 496.9,484.9 497.2,484.8 497.6,484.6 498.1,484.4 498.5,484.1 498.9,483.9 499.4,483.6 500.1,483 501.1,482.1 502.4,481 503.7,479.8 505,478.5 506.2,477.3 507.4,476 508.6,474.7 509.8,473.5 511,472.5 512.3,471.6 513.5,470.7 514.7,470 515.7,469.4 516.6,468.9 517.5,468.5 518.2,468.2 518.7,467.9 519.1,467.6 519.5,467.4 519.8,467.3 520,467.1 520.2,467 520.4,467 520.5,466.9" stroke="#FF0000" stroke-width="4.2" fill="none" stroke-linejoin="round" clip-path="url(#cb2)"/>
<path d="M518.1,531 536.7,526.5 555.3,522.1 555.3,522.1 571.7,526.5 588,531 588,531 604.3,526.5 620.6,522.1 620.6,522.1 635.2,525.8 649.8,529.5" stroke="#0072BD" stroke-width="4.1" fill="none" stroke-linejoin="round" clip-path="url(#cb3)"/>
<path d="M518.6,530.4 521.3,529.5 521.7,523 522.5,526.5 524.1,524 524.8,523.6 525.7,523.1 526.8,522.5 528,521.9 529.2,521.4 530.2,521.1 531.1,521.1 531.9,521.3 532.8,521.5 533.6,521.9 534.3,522.2 535.1,522.5 535.8,522.7 536.4,523 537,523.2 537.6,523.4 538.3,523.6 539.3,523.7 540.6,523.8 542.2,523.8 544,523.8 545.6,523.8 547.1,523.8 548.1,523.8 555.3,523.7 556,530.2 557.7,530.4 559,532 559.3,532.2 559.8,532.6 560.4,533 561,533.5 561.6,533.8 562.1,534 562.6,534 563,534 563.5,533.8 563.9,533.7 564.4,533.5 565,533.3 565.7,533.1 566.4,532.9 567.2,532.7 568,532.5 568.8,532.3 569.7,532.2 570.7,532.1 571.8,532 572.9,532 574,531.9 574.9,531.9 575.5,531.9 587.2,531.7 587.2,522.6 588,522.6 589.5,527.2 590.4,525.5 592.2,523 592.6,522.8 593.3,522.4 594,522 594.8,521.6 595.6,521.3 596.3,521.1 596.9,521.1 597.6,521.2 598.2,521.4 598.8,521.6 599.5,521.8 600.2,522 601,522.2 601.8,522.4 602.7,522.7 603.6,522.9 604.4,523.1 605.2,523.3 606,523.5 606.8,523.6 607.5,523.8 608.2,523.9 608.8,524 609.2,524.1 620.6,524 621.4,530.2 623.1,530.5 624.6,532 625,532.2 625.5,532.5 626.2,532.9 626.8,533.2 627.5,533.5 628.2,533.7 628.8,533.7 629.4,533.7 630,533.6 630.6,533.4 631.3,533.3 632.1,533.2 633,533.1 634.2,533.1 635.3,533 636.5,533 637.4,532.9 638.1,532.9 649.8,532.8" stroke="#FF0000" stroke-width="4.2" fill="none" stroke-linejoin="round" clip-path="url(#cb3)"/>
<path d="M624,587.5 626.7,581.4 629.5,576.7 632.2,573.2 635,570.8 637.7,569.3 640.4,568.8 643.2,569.2 645.9,570.5 648.7,572.7 651.4,576 654.2,580.6 656.9,586.5 656.9,587.5 659.6,581.4 662.4,576.7 665.1,573.2 667.9,570.8 670.6,569.3 673.4,568.8 676.1,569.2 678.9,570.5 681.6,572.7 684.3,576 687.1,580.6 689.8,586.5 689.8,587.5 692.6,581.4 695.3,576.7 698.1,573.2 700.8,570.8 703.5,569.3 706.3,568.8 709,569.2 711.8,570.5 714.5,572.7 717.3,576 720,580.6 722.8,586.5 722.8,587.5 725.5,581.4 728.2,576.7 731,573.2 733.7,570.8 736.5,569.3 739.2,568.8 742,569.2 744.7,570.5 747.4,572.7 750.2,576 752.9,580.6 755.7,586.5 755.7,587.5 758.4,581.4 761.2,576.7 763.9,573.2 766.7,570.8 769.4,569.3 772.1,568.8 774.9,569.2 777.6,570.5 780.4,572.7 783.1,576 785.9,580.6 788.6,586.5" stroke="#0072BD" stroke-width="4.1" fill="none" stroke-linejoin="round" clip-path="url(#cb4)"/>
<path d="M624,588.4 624.8,585 625,584.2 625.2,583.2 625.5,581.9 625.8,580.6 626.2,579.5 626.5,578.5 626.9,577.4 627.3,576.4 627.7,575.5 628.2,574.6 628.6,573.8 629.1,573 629.6,572.2 630.2,571.6 630.8,571 631.4,570.5 632.1,570.1 632.8,569.8 633.5,569.6 634.2,569.5 634.8,569.6 635.3,569.7 635.8,570 636.3,570.4 637,570.8 637.7,571.2 638.3,571.7 639.1,572.2 640,572.9 641,573.6 642.2,574.5 643.5,575.5 645,576.5 646.5,577.6 648,578.7 649.5,579.8 651.2,581.1 652.8,582.3 654.2,583.3 655.2,584 655.9,585.4 656.9,588.4 656.9,588.4 657.7,585 657.9,584.2 658.1,583.2 658.4,581.9 658.8,580.6 659.1,579.5 659.5,578.5 659.8,577.4 660.2,576.4 660.7,575.5 661.1,574.6 661.6,573.8 662.1,573 662.6,572.2 663.1,571.6 663.7,571 664.3,570.5 665,570.1 665.7,569.8 666.4,569.6 667.1,569.5 667.7,569.6 668.2,569.7 668.7,570 669.3,570.4 669.9,570.8 670.6,571.2 671.3,571.7 672,572.2 672.9,572.9 673.9,573.6 675.1,574.5 676.5,575.5 677.9,576.5 679.4,577.6 680.9,578.7 682.4,579.8 684.1,581.1 685.7,582.3 687.1,583.3 688.1,584 688.8,585.4 689.8,588.4 689.8,588.4 690.6,585 690.8,584.2 691.1,583.2 691.4,581.9 691.7,580.6 692,579.5 692.4,578.5 692.8,577.4 693.2,576.4 693.6,575.5 694,574.6 694.5,573.8 695,573 695.5,572.2 696,571.6 696.6,571 697.3,570.5 698,570.1 698.7,569.8 699.4,569.6 700,569.5 700.6,569.6 701.1,569.7 701.6,570 702.2,570.4 702.8,570.8 703.5,571.2 704.2,571.7 705,572.2 705.8,572.9 706.8,573.6 708,574.5 709.4,575.5 710.9,576.5 712.4,577.6 713.8,578.7 715.4,579.8 717,581.1 718.7,582.3 720,583.3 721,584 721.8,585.4 722.8,588.4 722.8,588.4 723.6,585 723.7,584.2 724,583.2 724.3,581.9 724.6,580.6 725,579.5 725.3,578.5 725.7,577.4 726.1,576.4 726.5,575.5 727,574.6 727.4,573.8 727.9,573 728.4,572.2 729,571.6 729.6,571 730.2,570.5 730.9,570.1 731.6,569.8 732.3,569.6 733,569.5 733.5,569.6 734.1,569.7 734.6,570 735.1,570.4 735.8,570.8 736.4,571.2 737.1,571.7 737.9,572.2 738.7,572.9 739.8,573.6 741,574.5 742.3,575.5 743.8,576.5 745.3,577.6 746.8,578.7 748.3,579.8 750,581.1 751.6,582.3 753,583.3 754,584 754.7,585.4 755.7,588.4 755.7,588.4 756.5,585 756.7,584.2 756.9,583.2 757.2,581.9 757.5,580.6 757.9,579.5 758.2,578.5 758.6,577.4 759,576.4 759.4,575.5 759.9,574.6 760.3,573.8 760.8,573 761.3,572.2 761.9,571.6 762.5,571 763.1,570.5 763.8,570.1 764.5,569.8 765.2,569.6 765.9,569.5 766.5,569.6 767,569.7 767.5,570 768,570.4 768.7,570.8 769.4,571.2 770,571.7 770.8,572.2 771.7,572.9 772.7,573.6 773.9,574.5 775.2,575.5 776.7,576.5 778.2,577.6 779.7,578.7 781.2,579.8 782.9,581.1 784.5,582.3 785.9,583.3 786.9,584 787.6,585.4 788.6,588.4" stroke="#FF0000" stroke-width="4.2" fill="none" stroke-linejoin="round" clip-path="url(#cb4)"/>
<path d="M781.5,524.1 786.6,522.6 820,530.2 852.7,522.6 886.9,530.2 913.2,525.6" stroke="#0072BD" stroke-width="4.1" fill="none" stroke-linejoin="round" clip-path="url(#cb5)"/>
<path d="M782,524.9 786.6,524.9 787.4,530.2 789.2,530.4 790.4,532 790.8,532.2 791.4,532.6 792,533.1 792.8,533.5 793.5,533.8 794.1,534 794.7,534 795.2,533.9 795.7,533.8 796.2,533.6 796.7,533.4 797.3,533.2 797.9,533.1 798.4,532.9 799,532.8 799.7,532.6 800.4,532.5 801.3,532.4 802.4,532.3 803.8,532.2 805.3,532.1 806.7,532 807.9,532 808.8,531.9 820,531.7 820,522.6 820.8,522.6 821.6,527.2 822.6,525.5 824.5,523.2 824.9,523 825.5,522.7 826.2,522.3 827,521.9 827.7,521.7 828.4,521.5 829,521.5 829.6,521.6 830.2,521.7 830.8,521.9 831.4,522.1 832,522.3 832.6,522.5 833.3,522.7 834,522.9 834.7,523.2 835.3,523.4 836,523.6 836.7,523.8 837.4,524 838.1,524.2 838.8,524.4 839.4,524.5 839.8,524.6 852.7,524.6 853.3,530.2 855.1,530.4 856.3,532 856.7,532.2 857.3,532.6 858,533.1 858.7,533.5 859.4,533.8 860,534 860.6,534 861.1,533.9 861.6,533.8 862.1,533.6 862.6,533.4 863.2,533.2 863.8,533.1 864.3,532.9 864.9,532.8 865.6,532.6 866.3,532.5 867.2,532.4 868.3,532.3 869.7,532.2 871.2,532.1 872.6,532 873.8,532 874.7,531.9 886,531.7 886,522.6 886.8,522.6 887.7,527.2 888.7,525.5 890.5,523.2 890.9,523 891.5,522.7 892.2,522.3 893,521.9 893.8,521.7 894.5,521.5 895.2,521.5 895.8,521.6 896.4,521.7 897.1,521.9 897.8,522.1 898.5,522.3 899.2,522.5 899.9,522.6 900.6,522.8 901.4,523 902.4,523.2 903.5,523.4 905,523.6 906.7,523.9 908.7,524.2 910.5,524.5 912.1,524.7 913.2,524.9" stroke="#FF0000" stroke-width="4.2" fill="none" stroke-linejoin="round" clip-path="url(#cb5)"/>
<defs><clipPath id="ci1"><rect x="532.3" y="383.2" width="105.9" height="76.7"/></clipPath><clipPath id="ci2"><rect x="794.6" y="383.2" width="106.1" height="77"/></clipPath></defs>
<path d="M532.3,459.9L638.2,459.9L628.7,506.3L539.6,506.3Z" fill="#e6e6e6" stroke="none"/>
<path d="M532.3,459.9L539.6,506.3M638.2,459.9L628.7,506.3" fill="none" stroke="#000" stroke-width="1.6"/>
<rect x="539.6" y="506.3" width="89.1" height="40.8" fill="none" stroke="#000" stroke-width="1.3"/>
<rect x="532.3" y="383.2" width="105.9" height="76.7" fill="#fff" stroke="none"/>
<path d="M794.6,460.2L900.7,460.2L891.8,507.1L802.1,507.1Z" fill="#e6e6e6" stroke="none"/>
<path d="M794.6,460.2L802.1,507.1M900.7,460.2L891.8,507.1" fill="none" stroke="#000" stroke-width="1.6"/>
<rect x="802.1" y="507.1" width="89.7" height="40.1" fill="none" stroke="#000" stroke-width="1.3"/>
<rect x="794.6" y="383.2" width="106.1" height="77" fill="#fff" stroke="none"/>
<path d="M531,417.6 552.2,395.6 553.6,394.4 554,406 591.5,439.4 628,395.4 629.2,394.4 629.6,406 640,415.5" stroke="#0072BD" stroke-width="4.1" fill="none" stroke-linejoin="round" clip-path="url(#ci1)"/>
<path d="M531,396 531.6,396.4 532.6,397.1 533.6,397.8 534.5,398.5 535.3,399.2 536,400 536.7,400.7 537.5,401.2 538.3,401.6 539.1,401.8 540,401.9 541,402 542.2,402 543.5,401.9 544.8,401.8 546,401.8 547.1,401.8 548.2,401.9 549.1,402 550,402.3 550.7,402.7 551.3,403.1 551.9,403.7 552.3,404.5 552.7,405.7 552.9,407.1 553.2,408.5 553.3,409.5 553.3,437.8 554.6,437.8 554.8,417 556,428 556.4,430.8 556.9,434.9 557.5,439.2 558,443 558.5,446 558.9,448.7 559.4,451.1 559.8,453 560.2,454.4 560.7,455.3 561.1,455.9 561.5,456.2 561.9,456.3 562.4,456 562.8,455.5 563.2,454.8 563.5,453.8 563.8,452.4 564,451.1 564.3,450 564.6,449.3 564.9,448.7 565.2,448.3 565.6,448 566.1,447.9 566.7,447.9 567.3,448 568,447.8 568.7,447.3 569.4,446.7 570.1,446 570.8,445.4 571.5,444.9 572.2,444.5 572.9,444.2 573.6,444.1 574.3,444.1 575.1,444.4 575.8,444.7 576.5,445 577.2,445.4 577.8,445.9 578.4,446.4 579,446.8 579.6,447 580.2,447.1 580.8,447.1 581.5,447 582.3,446.8 583.2,446.4 584.1,446 585,445.6 585.9,445.1 586.8,444.6 587.7,444.1 588.5,443.6 589.2,443 589.8,442.4 590.3,441.9 590.6,441.5 591.1,438 591.1,395.1 592.8,395.1 593.2,420.3 595.4,420.3 596.3,410 596.6,407.3 596.9,403.5 597.4,399.4 597.8,396 598.2,393.5 598.6,391.5 599.1,389.9 599.5,388.6 599.9,387.7 600.4,387.3 600.8,387.1 601.3,387.2 601.8,387.5 602.3,388 602.7,388.7 603.2,389.5 603.6,390.5 604,391.7 604.4,392.9 604.8,394 605.3,394.9 605.9,395.7 606.6,396.4 607.2,397 607.9,397.6 608.6,398 609.3,398.5 610,399 610.7,399.7 611.3,400.4 611.9,401.2 612.6,401.8 613.3,402.3 614,402.8 614.7,403.1 615.6,403.4 616.6,403.6 617.7,403.6 618.9,403.6 620,403.6 621.1,403.5 622.1,403.4 623.1,403.4 624,403.4 624.8,403.6 625.4,403.8 626.1,404.2 626.6,404.6 627.1,405.1 627.5,405.7 627.9,406.4 628.2,407.2 628.5,408.4 628.7,409.8 628.8,411.1 628.9,412 629,437.8 630.4,437.8 630.6,420 631.5,428 631.9,430.8 632.4,434.9 633,439.2 633.5,443 634,446 634.5,448.6 635,451 635.5,453 636,454.6 636.5,455.9 637,457 637.5,458 638.1,459 638.9,459.8 639.5,460.5 640,461" stroke="#FF0000" stroke-width="4.2" fill="none" stroke-linejoin="round" clip-path="url(#ci1)"/>
<rect x="532.3" y="383.2" width="105.9" height="76.7" fill="none" stroke="#000" stroke-width="2.1"/>
<path d="M793,415.6 793,415.6 797,418.9 800.9,422.6 804.9,426.6 808.9,430.9 812.8,435.6 816.8,440.6 816.8,440.6 821.4,433.4 825.9,426.5 830.5,420 835.1,413.7 839.7,407.8 844.2,402.1 848.8,396.8 853.4,391.8 854.2,391.6 854.6,404.5 854.6,404.5 859.3,408.2 864,412.1 868.7,416.2 873.5,420.4 878.2,424.9 882.9,429.5 887.6,434.4 892.3,439.4 892.3,439.4 895,435.4 897.6,431.7 900.3,428.2 903,425" stroke="#0072BD" stroke-width="4.1" fill="none" stroke-linejoin="round" clip-path="url(#ci2)"/>
<path d="M793,444.6 793.7,444.8 794.6,445 795.6,445.3 796.5,445.6 797.2,446 797.8,446.6 798.4,447.1 799,447.6 799.7,448 800.5,448.4 801.2,448.7 802,448.9 802.8,449 803.5,448.9 804.2,448.7 805,448.5 805.7,448.1 806.4,447.7 807.2,447.2 808,446.6 808.9,446 810,445.3 811,444.6 812,444 812.9,443.5 813.9,442.9 814.6,442.5 815.2,442.2 816.4,440.5 816.4,390.9 817.9,390.9 818.3,417.5 820.4,417.5 821.2,408 821.4,405.3 821.8,401.4 822.2,397.3 822.6,394 823,391.6 823.4,389.6 823.8,388 824.2,386.8 824.6,386 825,385.5 825.4,385.4 825.8,385.3 826.2,385.4 826.7,385.6 827.2,386 827.6,386.5 828,387.3 828.3,388.2 828.7,389.2 829,390 829.3,390.6 829.7,391.1 830.1,391.5 830.5,391.8 831.1,392 831.7,392 832.4,392 833,392.2 833.5,392.5 834,392.9 834.4,393.4 835,394 835.7,394.9 836.4,395.9 837.2,397 838,398 838.9,398.9 839.8,399.9 840.6,400.6 841.5,401.2 842.3,401.5 843,401.5 843.7,401.4 844.5,401.2 845.4,400.9 846.3,400.4 847.2,399.9 848,399.6 848.7,399.5 849.4,399.6 850,399.9 850.6,400.2 851.2,400.7 851.7,401.2 852.2,402 852.6,402.8 853,403.9 853.3,405.3 853.6,406.6 853.8,407.5 854,435 855.4,435 855.6,415 856.5,425 856.8,427.8 857.2,431.8 857.7,436.2 858.2,440 858.6,443.2 859.1,446.2 859.6,448.8 860,451 860.4,452.6 860.8,453.7 861.2,454.4 861.6,454.8 862,454.8 862.4,454.4 862.8,453.8 863.2,453 863.5,451.9 863.8,450.6 864.1,449.2 864.4,448.2 864.7,447.5 865.1,447.1 865.5,446.8 866,446.6 866.6,446.5 867.4,446.5 868.2,446.6 869,446.7 869.9,446.7 870.8,446.7 871.7,446.7 872.6,446.8 873.5,447 874.3,447.3 875.1,447.6 876,448 876.9,448.5 877.8,449 878.7,449.5 879.6,449.7 880.5,449.7 881.3,449.4 882.1,449 883,448.6 884,448 885,447.4 886,446.6 887,446 888.1,445.4 889.1,444.8 890.1,444.3 890.8,444 892.2,442 892.2,390.2 893.7,390.2 894.1,417.5 896,417.5 896.8,408 897,405.3 897.4,401.5 897.8,397.4 898.2,394 898.6,391.6 899,389.5 899.4,387.9 899.8,386.5 900.4,385.5 901,384.8 901.6,384.3 902,384" stroke="#FF0000" stroke-width="4.2" fill="none" stroke-linejoin="round" clip-path="url(#ci2)"/>
<rect x="794.6" y="383.2" width="106.1" height="77" fill="none" stroke="#000" stroke-width="2.1"/>
<path d="M123,100.9V329.2M123,375.9V603.2M254.7,100.9V329.2M254.7,375.9V603.2M386.4,100.9V329.2M386.4,375.9V603.2M518.1,100.9V329.2M518.1,375.9V603.2M649.8,100.9V329.2M649.8,375.9V603.2M781.5,100.9V329.2M781.5,375.9V603.2M913.2,100.9V329.2M913.2,375.9V603.2" stroke="#000" stroke-width="3.1" fill="none"/>
<path d="M121.7,329.2H914.5M121.7,603.2H914.5M123,329.2v8.8M123,603.2v8.8M155.9,329.2v8.8M155.9,603.2v8.8M188.9,329.2v8.8M188.9,603.2v8.8M221.8,329.2v8.8M221.8,603.2v8.8M254.7,329.2v8.8M254.7,603.2v8.8M287.6,329.2v8.8M287.6,603.2v8.8M320.6,329.2v8.8M320.6,603.2v8.8M353.5,329.2v8.8M353.5,603.2v8.8M386.4,329.2v8.8M386.4,603.2v8.8M419.3,329.2v8.8M419.3,603.2v8.8M452.3,329.2v8.8M452.3,603.2v8.8M485.2,329.2v8.8M485.2,603.2v8.8M518.1,329.2v8.8M518.1,603.2v8.8M551,329.2v8.8M551,603.2v8.8M584,329.2v8.8M584,603.2v8.8M616.9,329.2v8.8M616.9,603.2v8.8M649.8,329.2v8.8M649.8,603.2v8.8M682.7,329.2v8.8M682.7,603.2v8.8M715.7,329.2v8.8M715.7,603.2v8.8M748.6,329.2v8.8M748.6,603.2v8.8M781.5,329.2v8.8M781.5,603.2v8.8M814.4,329.2v8.8M814.4,603.2v8.8M847.4,329.2v8.8M847.4,603.2v8.8M880.3,329.2v8.8M880.3,603.2v8.8M913.2,329.2v8.8M913.2,603.2v8.8M114.8,102.2H123M114.8,215.7H123M114.8,329.2H123M114.8,377.2H123M114.8,452.3H123M114.8,527.4H123M114.8,603.2H123" stroke="#262626" stroke-width="2.1" fill="none"/>
<text x="53.05" y="113.93" font-size="33.6" letter-spacing="-0.557" fill="#262626" stroke="#262626" stroke-width="0.45">100</text>
<text x="89.39" y="227.63" font-size="33.6" letter-spacing="0.206" fill="#262626" stroke="#262626" stroke-width="0.45">0</text>
<text x="39.62" y="341.23" font-size="33.6" letter-spacing="-0.126" fill="#262626" stroke="#262626" stroke-width="0.45">-100</text>
<text x="53.05" y="389.23" font-size="33.6" letter-spacing="-0.557" fill="#262626" stroke="#262626" stroke-width="0.45">100</text>
<text x="71.46" y="464.33" font-size="33.6" letter-spacing="-0.842" fill="#262626" stroke="#262626" stroke-width="0.45">50</text>
<text x="89.39" y="539.43" font-size="33.6" letter-spacing="0.206" fill="#262626" stroke="#262626" stroke-width="0.45">0</text>
<text x="58.42" y="615.23" font-size="33.6" letter-spacing="-0.148" fill="#262626" stroke="#262626" stroke-width="0.45">-50</text>
<text x="193.71" y="33.90" font-size="41.9" letter-spacing="-0.035" fill="#000" stroke="#000" stroke-width="0.5">Contact Angular Momentum (Nms)</text>
<text x="456.56" y="649.80" font-size="33.6" letter-spacing="-0.002" fill="#262626" stroke="#262626" stroke-width="0.45">Time (s)</text>
<g transform="translate(37.3,238.6) rotate(-90)" fill="#262626"><text x="0" y="0" font-size="33.6" stroke="#262626" stroke-width="0.4">L<tspan font-size="26.7" dy="7.7" dx="-0.3">cx</tspan></text></g>
<g transform="translate(37.3,513.6) rotate(-90)" fill="#262626"><text x="0" y="0" font-size="33.6" stroke="#262626" stroke-width="0.4">L<tspan font-size="26.7" dy="4.6" dx="-0.3">cy</tspan></text></g>
<text transform="translate(142.29,83.90) scale(0.82,1)" font-size="25.0" letter-spacing="0.000" fill="#000" stroke="#000" stroke-width="0.35">p</text>
<circle cx="147.90" cy="64.6" r="1.45" fill="#000"/>
<text transform="translate(154.54,88.90) scale(0.82,1)" font-size="17.8" letter-spacing="0.000" fill="#000" stroke="#000" stroke-width="0.35">x</text>
<text transform="translate(167.62,83.90) scale(0.82,1)" font-size="25.0" letter-spacing="0.000" fill="#000" stroke="#000" stroke-width="0.35">=</text>
<text transform="translate(186.10,83.90) scale(0.82,1)" font-size="25.0" letter-spacing="0.198" fill="#000" stroke="#000" stroke-width="0.35">0.225</text>
<text transform="translate(278.59,83.90) scale(0.82,1)" font-size="25.0" letter-spacing="0.000" fill="#000" stroke="#000" stroke-width="0.35">p</text>
<circle cx="284.20" cy="64.6" r="1.45" fill="#000"/>
<text transform="translate(290.84,88.90) scale(0.82,1)" font-size="17.8" letter-spacing="0.000" fill="#000" stroke="#000" stroke-width="0.35">x</text>
<text transform="translate(303.92,83.90) scale(0.82,1)" font-size="25.0" letter-spacing="0.000" fill="#000" stroke="#000" stroke-width="0.35">=</text>
<text transform="translate(322.40,83.90) scale(0.82,1)" font-size="25.0" letter-spacing="0.263" fill="#000" stroke="#000" stroke-width="0.35">0.45</text>
<text transform="translate(404.29,83.90) scale(0.82,1)" font-size="25.0" letter-spacing="0.000" fill="#000" stroke="#000" stroke-width="0.35">p</text>
<circle cx="409.90" cy="64.6" r="1.45" fill="#000"/>
<text transform="translate(416.54,88.90) scale(0.82,1)" font-size="17.8" letter-spacing="0.000" fill="#000" stroke="#000" stroke-width="0.35">x</text>
<text transform="translate(429.62,83.90) scale(0.82,1)" font-size="25.0" letter-spacing="0.000" fill="#000" stroke="#000" stroke-width="0.35">=</text>
<text transform="translate(448.10,83.90) scale(0.82,1)" font-size="25.0" letter-spacing="0.198" fill="#000" stroke="#000" stroke-width="0.35">0.225</text>
<text transform="translate(532.79,83.90) scale(0.82,1)" font-size="25.0" letter-spacing="0.000" fill="#000" stroke="#000" stroke-width="0.35">p</text>
<circle cx="538.40" cy="64.6" r="1.45" fill="#000"/>
<text transform="translate(545.17,88.90) scale(0.82,1)" font-size="17.8" letter-spacing="0.000" fill="#000" stroke="#000" stroke-width="0.35">y</text>
<text transform="translate(558.12,83.90) scale(0.82,1)" font-size="25.0" letter-spacing="0.000" fill="#000" stroke="#000" stroke-width="0.35">=</text>
<text transform="translate(575.40,83.90) scale(0.82,1)" font-size="25.0" letter-spacing="0.000" fill="#000" stroke="#000" stroke-width="0.35">-</text>
<text transform="translate(581.90,83.90) scale(0.82,1)" font-size="25.0" letter-spacing="0.198" fill="#000" stroke="#000" stroke-width="0.35">0.225</text>
<text transform="translate(664.49,83.90) scale(0.82,1)" font-size="25.0" letter-spacing="0.000" fill="#000" stroke="#000" stroke-width="0.35">p</text>
<circle cx="670.10" cy="64.6" r="1.45" fill="#000"/>
<text transform="translate(676.74,88.90) scale(0.82,1)" font-size="17.8" letter-spacing="0.000" fill="#000" stroke="#000" stroke-width="0.35">x</text>
<text transform="translate(689.82,83.90) scale(0.82,1)" font-size="25.0" letter-spacing="0.000" fill="#000" stroke="#000" stroke-width="0.35">=</text>
<text transform="translate(707.10,83.90) scale(0.82,1)" font-size="25.0" letter-spacing="0.000" fill="#000" stroke="#000" stroke-width="0.35">-</text>
<text transform="translate(713.60,83.90) scale(0.82,1)" font-size="25.0" letter-spacing="0.198" fill="#000" stroke="#000" stroke-width="0.35">0.225</text>
<text transform="translate(798.89,83.90) scale(0.82,1)" font-size="25.0" letter-spacing="0.000" fill="#000" stroke="#000" stroke-width="0.35">p</text>
<circle cx="804.50" cy="64.6" r="1.45" fill="#000"/>
<text transform="translate(811.27,88.90) scale(0.82,1)" font-size="17.8" letter-spacing="0.000" fill="#000" stroke="#000" stroke-width="0.35">y</text>
<text transform="translate(824.22,83.90) scale(0.82,1)" font-size="25.0" letter-spacing="0.000" fill="#000" stroke="#000" stroke-width="0.35">=</text>
<text transform="translate(842.70,83.90) scale(0.82,1)" font-size="25.0" letter-spacing="0.198" fill="#000" stroke="#000" stroke-width="0.35">0.225</text>
<path d="M123,627V646.5M254.7,627V646.5" stroke="#1a1a1a" stroke-width="2.1" fill="none"/>
<path d="M123,636.9H163.8M212,636.9H254.7" stroke="#1a1a1a" stroke-width="3.1" fill="none"/>
<text x="170.78" y="648.30" font-size="34.4" letter-spacing="-0.668" fill="#262626" stroke="#262626" stroke-width="0.45">2s</text>
<rect x="939.4" y="166.7" width="70.6" height="371" fill="#fff" stroke="#262626" stroke-width="1.4"/>
<path d="M990.3,176.8V207.9" stroke="#0072BD" stroke-width="3.8"/>
<path d="M959.3,176.8V207.9" stroke="#FF0000" stroke-width="3.8"/>
<text transform="translate(981.6,0) rotate(90)" x="215.35" y="0" font-size="25" letter-spacing="-0.021" fill="#000" stroke="#000" stroke-width="0.4">Current Contact Momentum</text>
<text transform="translate(950.4,0) rotate(90)" x="215.25" y="0" font-size="25" letter-spacing="0.023" fill="#000" stroke="#000" stroke-width="0.4">Estimated at End of Step</text>
</svg>
</body></html>
